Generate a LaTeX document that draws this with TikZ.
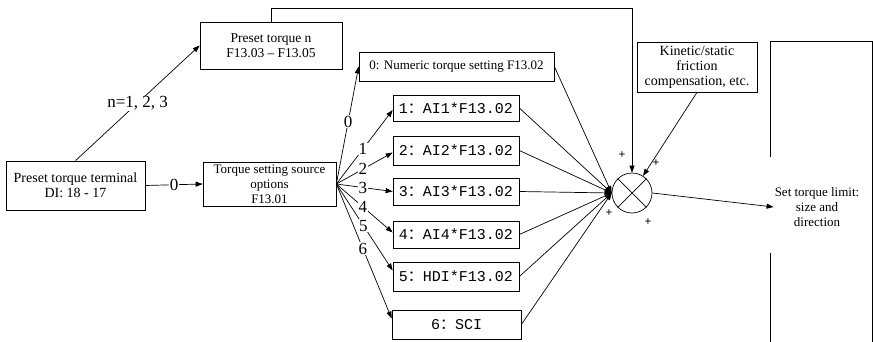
\documentclass[tikz,border=0pt]{standalone}
\usepackage{fontspec}
\setmainfont{Liberation Serif}
\newfontfamily\monof{Liberation Mono}
\newfontfamily\cjk{Noto Sans CJK SC}
\newcommand{\fwcolon}{{\cjk ：}}
\usetikzlibrary{arrows.meta,calc}
\tikzset{
  arr/.style={-{Triangle[length=7pt,width=5pt]}, line width=0.7pt},
  ln/.style={line width=0.7pt},
  tbox/.style={draw, line width=0.7pt, inner sep=1pt, align=center, font={\fontsize{13}{15}\selectfont}},
  mbox/.style={draw, line width=0.7pt, inner sep=1pt, minimum width=126pt, font={\monof\fontsize{15}{18}\selectfont}},
  lab/.style={fill=white, inner sep=0.6pt, font={\fontsize{17}{18}\selectfont}},
  plus/.style={inner sep=0pt, font={\bfseries\fontsize{12}{12}\selectfont}}
}
\begin{document}
\begin{tikzpicture}[x=1pt,y=-1pt]
\useasboundingbox (0,0) rectangle (873,342);
% boxes
\node[tbox, minimum width=139pt, minimum height=49pt, font={\fontsize{14}{15}\selectfont}] (term) at (75.5,185.5) {Preset torque terminal\\DI: 18 - 17};
\node[tbox, minimum width=142pt, minimum height=47pt, font={\fontsize{13.5}{15}\selectfont}] (ptn) at (271,45.5) {Preset torque n\\F13.03 -- F13.05};
\node[tbox, minimum width=133pt, minimum height=44pt, inner sep=0pt] (src) at (269.5,184) {Torque setting source\\options\\F13.01};
\node[tbox, minimum width=195pt, minimum height=29pt, font={\fontsize{13}{15}\selectfont}] (b0) at (456.5,66.5) {0: Numeric torque setting F13.02};
\node[mbox, minimum height=26pt] (b1) at (456,108) {1\fwcolon AI1*F13.02};
\node[mbox, minimum height=29pt] (b2) at (456,150.5) {2\fwcolon AI2*F13.02};
\node[mbox, minimum height=27pt] (b3) at (456,191.5) {3\fwcolon AI3*F13.02};
\node[mbox, minimum height=27pt] (b4) at (456,234.5) {4\fwcolon AI4*F13.02};
\node[mbox, minimum height=29pt] (b5) at (456,276.5) {5\fwcolon HDI*F13.02};
\node[mbox, minimum height=29pt, minimum width=129pt] (b6) at (456.5,324.5) {6\fwcolon SCI};
\node[tbox, minimum width=120pt, minimum height=50pt, font={\fontsize{14}{15}\selectfont}] (kin) at (697,67) {Kinetic/static\\friction\\compensation, etc.};
\node[draw, circle, line width=0.7pt, minimum size=40pt, inner sep=0pt] (sum) at (632,193) {};
\draw[ln] (sum.north west) -- (sum.south east) (sum.north east) -- (sum.south west);
\node[align=center, inner sep=1pt, font={\fontsize{13}{15}\selectfont}] (out) at (817,207) {Set torque limit:\\size and\\direction};
% connectors
\draw[arr] (term.north) -- node[lab] {n=1, 2, 3} (ptn.west);
\draw[arr] (term.east) -- node[lab] {0} (src.west);
\draw[arr] (src.east) -- node[lab, pos=0.53] {0} (b0.west);
\draw[arr] (src.east) -- node[lab, pos=0.47] {1} ($(b1.west)+(0,2)$);
\draw[arr] (src.east) -- node[lab, pos=0.47] {2} ($(b2.west)+(0,2)$);
\draw[arr] (src.east) -- node[lab, pos=0.47] {3} (b3.west);
\draw[arr] (src.east) -- node[lab, pos=0.47] {4} ($(b4.west)+(0,-2)$);
\draw[arr] (src.east) -- node[lab, pos=0.48] {5} ($(b5.west)+(0,-6)$);
\draw[arr] (src.east) -- node[lab, pos=0.48] {6} ($(b6.west)+(0,-6)$);
\foreach \b in {b0,b1,b2,b3,b4,b5,b6} \draw[arr] (\b.east) -- (sum.west);
\coordinate (tr) at (632,8);
\draw[arr] (ptn.north) |- (tr) -- (sum.north);
\draw[arr] (kin.south) -- (sum);
\draw[arr] (sum.east) -- (out.west);
% plus signs
\node[plus] (p1) at (622,155) {+};
\node[plus] (p2) at (656,163) {+};
\node[plus] (p3) at (609,213) {+};
\node[plus] (p4) at (648,222) {+};
% right frame
\draw[ln] (770,157) -- (770,41) -- (872,41) -- (872,342);
\draw[ln] (770,253) -- (770,342);
\end{tikzpicture}
\end{document}
